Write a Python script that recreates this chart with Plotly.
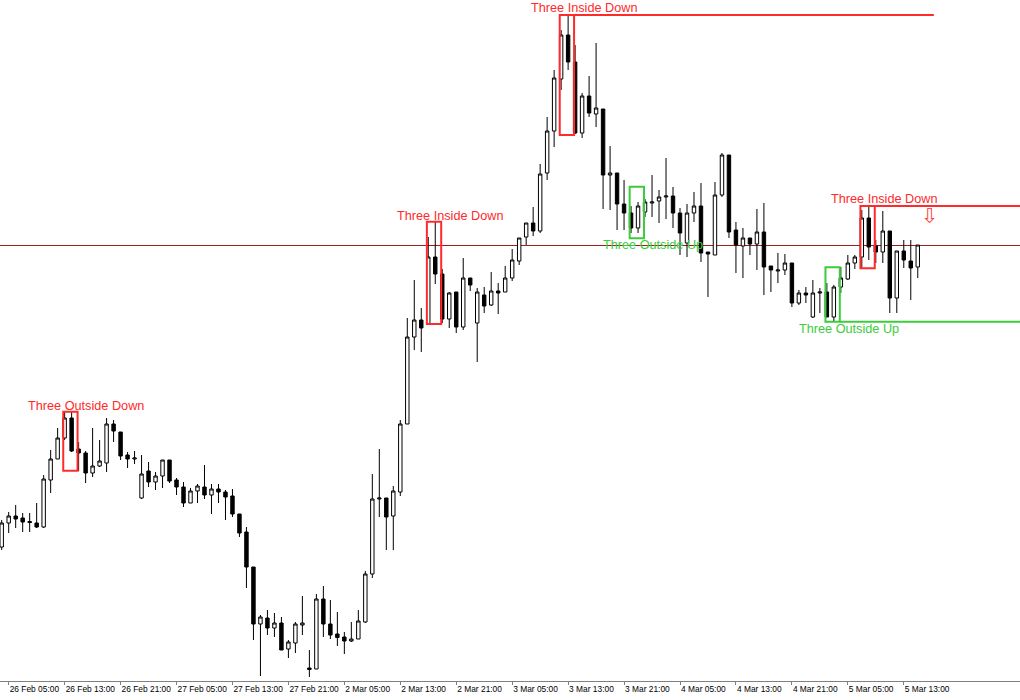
import plotly.graph_objects as go

# ---- hourly candles (price units) ----
opens = [153,177,184,182,178.5,177,173,220,241,262,
         282,251,247,227,234,237,276,268,245,241,
         202,229,218,224,240,220,213,197,209,213,
         205,211,208,204,186,168,133,76,82,72,
         77,51,57,75,32,31,101,76,66,63,
         59,61,78,126,201,202,184,208,276,363,
         380,376,443,426,381,408,373,422,377,405,
         395,409,408,422,439,463,477,469,527,569,
         621,665,638,567,604,586,591,525,527,496,
         487,472,488,497,499,503,504,487,457,487,
         494,448,445,505,545,470,454,462,456,468,
         434,429,430,437,397,407,383,407,408,383,
         413,421,437,443,482,454,448,469,402,449,
         439,433]
highs = [180,188,195,187,187,197,225,250,272,288,
         288,258,249,272,260,282,280,268,248,249,
         245,238,228,240,240,222,218,212,216,235,
         216,216,210,211,186,173,133,85,90,87,
         83,60,78,104,50,106,114,100,88,68,
         78,90,129,226,251,202,214,280,382,420,
         392,463,478,431,408,408,442,422,412,413,
         428,417,434,451,462,477,493,536,583,630,
         670,685,655,607,624,657,591,554,527,520,
         494,498,501,525,510,542,513,492,496,508,
         517,448,518,547,545,478,472,462,491,497,
         434,447,446,437,410,413,420,412,417,415,
         433,445,445,490,494,460,489,469,449,460,
         460,455]
lows = [150,167,172,168,168,172,172,207,241,260,
        248,229,217,223,233,228,258,240,232,236,
        201,213,210,212,217,205,193,197,197,201,
        186,197,180,183,163,112,60,24,65,63,
        50,42,47,65,23,31,63,61,54,46,
        58,61,77,122,183,150,150,204,276,350,
        348,376,416,377,372,367,370,409,338,387,
        394,386,408,419,435,455,464,467,520,553,
        610,630,566,562,583,573,491,490,470,470,
        467,467,483,483,477,481,472,445,443,478,
        438,403,445,503,462,427,422,445,430,405,
        408,417,425,393,395,397,382,387,383,379,
        407,420,431,431,440,437,437,387,387,432,
        400,422]
closes = [177,184,181,178,177.5,173,221,241,262,282,
          249,247,227,234,239,276,269,244,241,242,
          226,218,224,240,219,213,197,209,214,205,
          211,208,203,186,167,133,76,83,72,77,
          50,58,76,77,30.5,101,76,65,62.5,59,
          61,79,126,201,202,183,209,276,363,380,
          372,443,426,381,407,373,422,415,408,394,
          409,407,422,440,462,477,469,526,569,622,
          665,638,567,604,587,592,525,527,496,487,
          472,494,498,498,503,504,487,467,487,494,
          447,446,505,545,468,455,462,456,468,433,
          430,430,437,397,407,405,407,408,383,413,
          422,437,443,482,453,448,469,402,449,440,
          432,455]

tick_idx = [1, 9, 17, 25, 33, 41, 49, 57, 65, 73, 81, 89, 97, 105, 113, 121, 129]
tick_labels = ["26 Feb 05:00", "26 Feb 13:00", "26 Feb 21:00", "27 Feb 05:00",
               "27 Feb 13:00", "27 Feb 21:00", "2 Mar 05:00", "2 Mar 13:00",
               "2 Mar 21:00", "3 Mar 05:00", "3 Mar 13:00", "3 Mar 21:00",
               "4 Mar 05:00", "4 Mar 13:00", "4 Mar 21:00", "5 Mar 05:00",
               "5 Mar 13:00"]

# pattern name, first bar, kind, box top, box bottom
pattern_names = ["Three Outside Down", "Three Inside Down", "Three Inside Down",
                 "Three Outside Up", "Three Outside Up", "Three Inside Down"]
pattern_start = [9, 61, 80, 90, 118, 123]
pattern_kind = ["down", "down", "down", "up", "up", "down"]
pattern_top = [288.3, 478.3, 685, 513.3, 432.7, 494]
pattern_bottom = [229.3, 376, 565, 461.7, 378.3, 431.7]
label_x = [12.1, 64.2, 83.3, 93.1, 121.1, 126.2]
label_y = [294.5, 484.5, 692, 455, 371, 501]

# signal levels: price, from bar, to bar
level_price = [685, 494, 378.3]
level_from = [81.85, 124.85, 119.85]
level_to = [133.3, 146, 146]
level_kind = ["down", "down", "up"]

bid_price = 454.5
signal_arrow = (132.8, 484)

RED = "#ff2a2a"
GREEN = "#3ccc3c"
colors = {"down": RED, "up": GREEN}

x = list(range(len(opens)))

fig = go.Figure(go.Candlestick(
    x=x, open=opens, high=highs, low=lows, close=closes,
    increasing=dict(fillcolor="white", line=dict(color="black", width=1)),
    decreasing=dict(fillcolor="black", line=dict(color="black", width=1)),
    whiskerwidth=0, hoverinfo="skip", showlegend=False,
))

shapes = []
shapes.append(dict(type="line", xref="paper", yref="y", x0=0, x1=1,
                   y0=bid_price, y1=bid_price,
                   line=dict(color="#9a2020", width=1), layer="below"))
for s, k, t, b in zip(pattern_start, pattern_kind, pattern_top, pattern_bottom):
    shapes.append(dict(type="rect", xref="x", yref="y",
                       x0=s - 0.2, x1=s + 1.85, y0=b, y1=t,
                       line=dict(color=colors[k], width=2), fillcolor="rgba(0,0,0,0)",
                       layer="above"))
for p, a, z, k in zip(level_price, level_from, level_to, level_kind):
    shapes.append(dict(type="line", xref="x", yref="y", x0=a, x1=z, y0=p, y1=p,
                       line=dict(color=colors[k], width=2), layer="above"))

annotations = []
for n, k, lx, ly in zip(pattern_names, pattern_kind, label_x, label_y):
    annotations.append(dict(x=lx, y=ly, xref="x", yref="y", text=n, showarrow=False,
                            xanchor="center", yanchor="middle",
                            font=dict(family="Liberation Sans, Arial, sans-serif",
                                      size=12.7, color=colors[k])))
annotations.append(dict(x=signal_arrow[0], y=signal_arrow[1], xref="x", yref="y",
                        text="⇩", showarrow=False, xanchor="center", yanchor="middle",
                        font=dict(family="DejaVu Sans", size=21, color="#ff4a4a")))

fig.update_layout(
    width=1020, height=700,
    margin=dict(l=0, r=0, t=0, b=19),
    paper_bgcolor="white", plot_bgcolor="white",
    shapes=shapes, annotations=annotations,
    xaxis=dict(range=[-0.243, 145.62], tickmode="array", tickvals=tick_idx,
               ticktext=tick_labels, ticks="outside", ticklen=3, tickcolor="#808080",
               showline=True, linecolor="#808080", linewidth=1, mirror=True,
               showgrid=False, zeroline=False, rangeslider=dict(visible=False),
               ticklabelposition="outside right", tickangle=0, automargin=False,
               tickfont=dict(family="Liberation Sans, Arial, sans-serif",
                             size=8.4, color="black")),
    yaxis=dict(range=[19, 700], showgrid=False, zeroline=False, showticklabels=False,
               ticks="", showline=False, fixedrange=True, automargin=False),
    showlegend=False,
)

fig.write_html("out.html", config={"displayModeBar": False},
               post_script="document.body.style.margin='0px';")
